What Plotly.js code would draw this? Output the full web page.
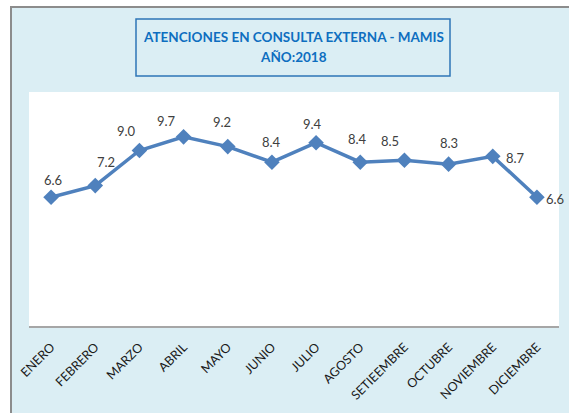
<!DOCTYPE html>
<html>
<head>
<meta charset="utf-8">
<script src="https://cdn.plot.ly/plotly-3.0.1.min.js"></script>
<style>
html,body{margin:0;padding:0;background:#ffffff;}
#chart{width:569px;height:413px;}
</style>
</head>
<body>
<div id="chart"></div>
<script>
// ---- data ----
const months = ["ENERO","FEBRERO","MARZO","ABRIL","MAYO","JUNIO","JULIO","AGOSTO","SETIEEMBRE","OCTUBRE","NOVIEMBRE","DICIEMBRE"];
const values = [6.6, 7.2, 9.0, 9.7, 9.2, 8.4, 9.4, 8.4, 8.5, 8.3, 8.7, 6.6];
const titleLines = ["ATENCIONES EN CONSULTA EXTERNA - MAMIS", "AÑO:2018"];

// ---- label offsets (style only, pixels) ----
const labelDx = [2, 11, -13, -17, -6, 0, -4, -3, -14, 0, 23, 18];
const labelDy = [17, 24, 20, 16, 25, 20, 19, 23, 19, 21, -2, -2];

const FONT = 'Lato, "Noto Sans", sans-serif';
const BLUE = '#4F81BD';
const BG = '#DBEEF4';

const trace = {
  type: 'scatter',
  mode: 'lines+markers',
  x: months,
  y: values,
  line: {color: BLUE, width: 3.5},
  marker: {symbol: 'diamond', size: 12, color: BLUE},
  hoverinfo: 'x+y'
};

const L = 29, R = 10, T = 92, B = 87;
const W = 569, H = 413;
const pw = W - L - R, ph = H - T - B;
const px2x = p => (p - L) / pw;
const px2y = p => (H - B - p) / ph;

const annotations = months.map((m, i) => ({
  x: m, y: values[i], xref: 'x', yref: 'y',
  text: values[i].toFixed(1), showarrow: false,
  xshift: labelDx[i], yshift: labelDy[i],
  font: {family: FONT, size: 13, color: '#404040'}
}));

const titleY = [37, 57];
titleLines.forEach((t, i) => annotations.push({
  xref: 'paper', yref: 'paper',
  x: px2x(293), y: px2y(titleY[i]), xanchor: 'center', yanchor: 'middle',
  text: '<b>' + t + '</b>',
  showarrow: false,
  font: {family: FONT, size: 13.5, color: '#0E6EC0'}
}));

const shapes = [
  {type: 'rect', xref: 'paper', yref: 'paper', x0: px2x(-5), x1: px2x(10), y0: px2y(-5), y1: px2y(420), fillcolor: '#ffffff', line: {width: 0}, layer: 'above'},
  {type: 'rect', xref: 'paper', yref: 'paper', x0: px2x(-5), x1: px2x(580), y0: px2y(-5), y1: px2y(6), fillcolor: '#ffffff', line: {width: 0}, layer: 'above'},
  {type: 'line', xref: 'paper', yref: 'paper', x0: px2x(11), x1: px2x(11), y0: px2y(6), y1: px2y(420), line: {color: '#8C8C8C', width: 2}},
  {type: 'line', xref: 'paper', yref: 'paper', x0: px2x(10), x1: px2x(580), y0: px2y(7), y1: px2y(7), line: {color: '#8C8C8C', width: 2}},
  // title box
  {type: 'rect', xref: 'paper', yref: 'paper', x0: px2x(136), x1: px2x(450), y0: px2y(76), y1: px2y(19), fillcolor: 'rgba(0,0,0,0)', line: {color: '#2E75B6', width: 1.5}}
];

const layout = {
  width: W, height: H,
  margin: {l: L, r: R, t: T, b: B, pad: 0},
  paper_bgcolor: BG,
  plot_bgcolor: '#ffffff',
  showlegend: false,
  xaxis: {
    type: 'category',
    range: [-0.5, 11.5],
    showline: true, linecolor: '#A6A6A6', linewidth: 2,
    showgrid: false, zeroline: false,
    ticks: '', tickangle: -45,
    ticklabelstandoff: 7,
    tickfont: {family: FONT, size: 12.5, color: '#1a1a1a'},
    fixedrange: true
  },
  yaxis: {
    range: [0, 12],
    visible: false,
    showgrid: false, zeroline: false,
    fixedrange: true
  },
  annotations: annotations,
  shapes: shapes
};

Plotly.newPlot('chart', [trace], layout, {displayModeBar: false, staticPlot: true});
</script>
</body>
</html>
